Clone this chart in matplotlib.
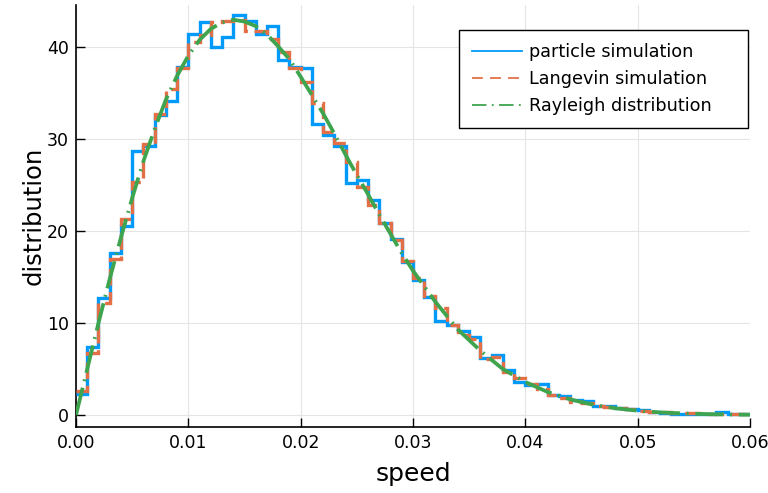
import matplotlib
matplotlib.use("Agg")
import matplotlib.pyplot as plt
import numpy as np
from matplotlib.lines import Line2D

# bin edges: 0 .. 0.06, width 0.001
edges = np.round(np.arange(0, 0.0605, 0.001), 4)

# histogram heights
particle = [2.3, 7.4, 12.7, 17.6, 20.6, 28.7, 29.3, 32.6, 34.2, 37.9,
            41.4, 42.7, 40.0, 41.1, 43.5, 42.9, 41.5, 42.3, 38.6, 37.9,
            37.8, 31.7, 30.5, 29.3, 25.2, 25.6, 23.4, 20.9, 19.2, 16.6,
            14.7, 12.8, 10.2, 9.8, 9.1, 8.5, 6.2, 6.5, 4.9, 3.6,
            3.3, 3.4, 2.2, 2.1, 1.6, 1.55, 1.0, 0.95, 0.72, 0.7,
            0.55, 0.3, 0.25, 0.12, 0.12, 0.1, 0.15, 0.3, 0.12, 0.08]
langevin = [2.6, 6.7, 12.2, 17.0, 21.3, 25.4, 29.5, 32.7, 35.5, 37.7,
            40.6, 41.3, 42.8, 42.9, 43.0, 41.8, 41.8, 40.9, 39.5, 37.8,
            36.2, 33.9, 30.8, 29.6, 27.5, 24.8, 22.9, 20.9, 19.0, 16.8,
            14.9, 12.9, 11.6, 9.8, 8.7, 8.3, 6.1, 6.3, 4.7, 4.0,
            3.4, 2.8, 2.2, 1.9, 1.45, 1.3, 0.95, 0.9, 0.75, 0.65,
            0.45, 0.35, 0.3, 0.2, 0.2, 0.2, 0.1, 0.12, 0.1, 0.08]

# Rayleigh curve, points
ray_v = [0.0, 0.001, 0.002, 0.003, 0.004, 0.005, 0.006, 0.007, 0.008, 0.009,
         0.010, 0.011, 0.012, 0.013, 0.014, 0.015, 0.016, 0.017, 0.018, 0.019,
         0.020, 0.021, 0.022, 0.023, 0.024, 0.025, 0.026, 0.027, 0.028, 0.029,
         0.030, 0.032, 0.034, 0.036, 0.038, 0.040, 0.042, 0.044, 0.046, 0.048,
         0.050, 0.052, 0.054, 0.056, 0.058, 0.060]
ray_f = [0.0, 5.0, 10.0, 14.8, 19.3, 23.6, 27.6, 31.1, 34.3, 36.9,
         39.1, 40.8, 42.0, 42.7, 43.0, 42.8, 42.3, 41.4, 40.1, 38.7,
         36.8, 34.8, 32.8, 30.6, 28.3, 26.1, 24.0, 21.8, 19.7, 17.6,
         15.7, 12.3, 9.3, 7.0, 5.0, 3.6, 2.5, 1.7, 1.13, 0.74,
         0.47, 0.29, 0.18, 0.11, 0.06, 0.035]

blue = "#009AFA"
orange = "#E36F47"
green = "#3EA44E"

plt.rcParams["font.family"] = ["DejaVu Sans"]

fig = plt.figure(figsize=(7.68, 4.93), dpi=100)
ax = fig.add_axes([76 / 768, 66 / 493, 674 / 768, 422 / 493])

lw = 2.4
ax.stairs(particle, edges, baseline=None, color=blue, lw=lw, zorder=3)
ax.stairs(langevin, edges, baseline=None, color=orange, lw=lw,
          linestyle=(0, (5, 2)), zorder=4)
ax.plot(ray_v, ray_f, color=green, lw=lw + 0.3,
        linestyle=(0, (7.5, 1.8, 0.5, 1.8)), zorder=5)

ax.set_xlim(0, 0.06)
ax.set_ylim(-1.3, 44.6)
ax.set_xticks([0.0, 0.01, 0.02, 0.03, 0.04, 0.05, 0.06])
ax.set_xticklabels(["0.00", "0.01", "0.02", "0.03", "0.04", "0.05", "0.06"])
ax.set_yticks([0, 10, 20, 30, 40])
ax.tick_params(direction="in", length=6.5, width=1.0, labelsize=12.5, pad=5)
ax.grid(True, color="#e5e5e5", lw=0.8, zorder=0)
for s in ["top", "right"]:
    ax.spines[s].set_visible(False)
for s in ["left", "bottom"]:
    ax.spines[s].set_linewidth(1.2)

ax.set_xlabel("speed", fontsize=18, labelpad=7)
ax.set_ylabel("distribution", fontsize=17.5, labelpad=1)

handles = [Line2D([], [], color=blue, lw=1.3),
           Line2D([], [], color=orange, lw=1.3, linestyle=(0, (6, 4))),
           Line2D([], [], color=green, lw=1.3, linestyle=(0, (8, 3, 1, 3)))]
labels = ["particle simulation", "Langevin simulation", "Rayleigh distribution    "]
leg = ax.legend(handles, labels,
                loc="upper right", bbox_to_anchor=(0.997, 0.941), fontsize=12.7,
                frameon=True, fancybox=False, framealpha=1, edgecolor="black",
                handlelength=2.85, handletextpad=0.4, borderpad=0.75, labelspacing=0.5,
                borderaxespad=0)
leg.get_frame().set_linewidth(1.0)

fig.savefig("out.png", dpi=100)
